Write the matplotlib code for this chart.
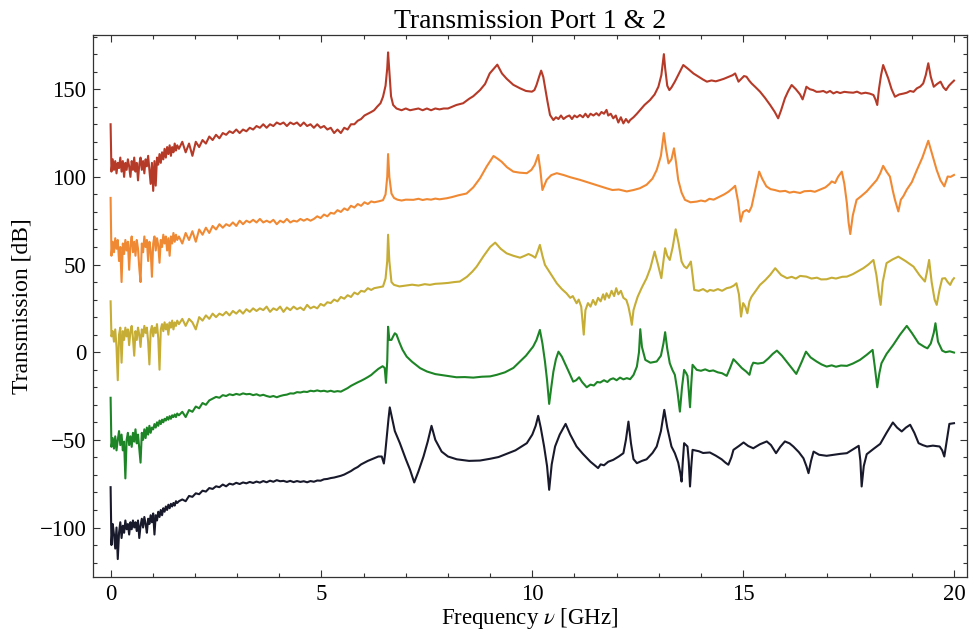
import matplotlib
matplotlib.use("Agg")
import matplotlib.pyplot as plt
from matplotlib.ticker import MultipleLocator
import numpy as np

plt.rcParams["font.family"] = ["Liberation Serif", "DejaVu Serif"]
plt.rcParams["mathtext.fontset"] = "stix"

# shared frequency samples (GHz) for the noisy low-frequency part
f_low = [0.00, 0.02, 0.05, 0.08, 0.11, 0.14, 0.17, 0.20, 0.23, 0.26,
         0.29, 0.32, 0.35, 0.38, 0.41, 0.44, 0.47, 0.50, 0.53, 0.56,
         0.59, 0.62, 0.65, 0.68, 0.71, 0.74, 0.77, 0.80, 0.83, 0.86,
         0.89, 0.92, 0.95, 0.98, 1.01, 1.04, 1.07, 1.10, 1.13, 1.16,
         1.19, 1.22, 1.25, 1.28, 1.31, 1.34, 1.37, 1.40, 1.43, 1.46,
         1.49, 1.52, 1.55, 1.58]
f_mid = [1.62, 1.70, 1.78, 1.86, 1.94, 2.02, 2.10, 2.18, 2.26, 2.34,
         2.42, 2.50, 2.58, 2.66, 2.74, 2.82, 2.90, 2.98, 3.06, 3.14,
         3.22, 3.30, 3.38, 3.46, 3.54, 3.62, 3.70, 3.78, 3.86, 3.94,
         4.02, 4.10, 4.18, 4.26, 4.34, 4.42, 4.50, 4.58, 4.66, 4.74,
         4.82, 4.90, 4.98, 5.06, 5.14, 5.22, 5.30, 5.38, 5.46, 5.54,
         5.62, 5.70, 5.78, 5.86, 5.94, 6.02, 6.10, 6.18]

# --- trace 1 (red) ---
red_low = [130, 103, 110, 104, 109, 102, 108, 105, 111, 103,
           109, 100, 108, 104, 110, 106, 100, 109, 104, 111,
           103, 108, 98, 107, 111, 104, 109, 102, 110, 106,
           112, 104, 96, 108, 92, 109, 95, 111, 107, 113,
           108, 114, 110, 116, 111, 117, 113, 118, 112, 117,
           114, 119, 115, 118]
red_mid = [116, 120, 114, 119, 112, 120, 117, 121, 119, 123,
           121, 124, 122, 125, 124, 126, 125, 127, 125, 127,
           126, 128, 127, 129, 128, 130, 128, 130, 129, 131,
           130, 131, 129, 131, 130, 131, 129, 131, 129, 130,
           128, 130, 128, 129, 127, 128, 125, 127, 125, 128,
           127, 130, 130, 132, 133, 135, 136, 137]
red_hi = [(6.25, 138), (6.32, 140), (6.40, 142), (6.46, 145.7), (6.52, 152), (6.56, 162),
          (6.58, 171), (6.61, 160), (6.65, 146), (6.70, 141), (6.78, 139), (6.90, 138),
          (7.00, 139), (7.10, 138), (7.20, 138.5), (7.30, 139), (7.40, 138), (7.50, 139),
          (7.60, 138), (7.70, 139), (7.80, 138.5), (7.90, 139), (8.00, 139), (8.10, 140),
          (8.20, 141), (8.36, 142), (8.50, 144.5), (8.60, 146), (8.76, 149.5), (8.88, 153),
          (8.99, 159), (9.08, 161.5), (9.17, 164), (9.28, 159), (9.39, 156), (9.55, 152.5),
          (9.71, 150.5), (9.85, 149), (9.99, 148.6), (10.05, 149.5), (10.10, 152.4),
          (10.16, 157), (10.21, 160.6), (10.26, 157), (10.30, 151.4), (10.36, 143),
          (10.42, 135.3), (10.50, 132.4), (10.56, 134), (10.62, 133), (10.68, 135),
          (10.74, 133), (10.81, 134.3), (10.88, 135), (10.94, 133), (11.00, 135),
          (11.06, 134), (11.13, 135.3), (11.20, 134), (11.26, 136), (11.32, 134),
          (11.38, 136), (11.45, 135), (11.52, 136.3), (11.58, 135), (11.64, 137),
          (11.70, 136), (11.76, 138.2), (11.80, 135), (11.86, 136), (11.92, 133.4),
          (11.98, 135), (12.04, 131), (12.10, 134), (12.16, 130.5), (12.22, 133),
          (12.28, 131), (12.32, 132.4), (12.40, 134), (12.48, 136), (12.56, 138.2),
          (12.66, 141), (12.79, 143.8), (12.90, 147), (12.99, 151.4), (13.06, 158),
          (13.10, 166), (13.12, 170), (13.15, 162), (13.20, 152), (13.25, 149.5),
          (13.30, 151), (13.38, 154.3), (13.48, 159), (13.58, 163.8), (13.70, 161.5),
          (13.82, 159), (13.95, 157), (14.05, 155.5), (14.14, 154.3), (14.25, 155),
          (14.35, 154.5), (14.45, 155.2), (14.55, 156), (14.65, 157), (14.75, 158),
          (14.81, 159), (14.86, 156), (14.89, 154.3), (14.96, 156), (15.02, 157.5),
          (15.08, 157.1), (15.14, 155), (15.20, 153.3), (15.30, 151), (15.40, 148.6),
          (15.52, 145), (15.64, 141), (15.75, 137), (15.83, 133.4), (15.90, 138),
          (15.99, 144.8), (16.07, 149), (16.15, 152.4), (16.25, 150), (16.35, 147),
          (16.41, 144.2), (16.46, 148), (16.50, 151.4), (16.58, 150), (16.66, 149.5),
          (16.74, 148.5), (16.82, 148.6), (16.90, 149), (16.98, 148), (17.06, 149),
          (17.14, 147.6), (17.22, 148.5), (17.30, 147.8), (17.40, 148.5), (17.50, 148.2),
          (17.61, 148), (17.70, 148.6), (17.80, 147.5), (17.90, 148), (18.00, 147.5),
          (18.09, 146.7), (18.14, 144), (18.18, 141), (18.22, 150), (18.27, 158),
          (18.32, 163.8), (18.38, 160), (18.44, 156.2), (18.52, 150), (18.60, 145.7),
          (18.70, 147), (18.80, 147.5), (18.88, 148), (18.96, 149), (19.04, 148.5),
          (19.12, 150.5), (19.20, 151.5), (19.27, 153.3), (19.33, 158), (19.39, 164.8),
          (19.45, 157), (19.52, 151.4), (19.60, 153), (19.68, 154.3), (19.75, 151),
          (19.81, 149.5), (19.88, 152), (19.94, 153.5), (20.00, 154.9)]

# --- trace 2 (orange) ---
orange_low = [88, 55, 63, 57, 65, 59, 64, 52, 60, 40,
              62, 56, 64, 58, 63, 47, 61, 66, 57, 63,
              55, 64, 59, 48, 40, 62, 57, 66, 60, 64,
              52, 63, 58, 43, 62, 66, 58, 65, 61, 51,
              64, 60, 67, 62, 66, 58, 65, 55, 66, 62,
              68, 63, 67, 64]
orange_mid = [66, 62, 68, 64, 69, 63, 70, 67, 71, 68,
              72, 70, 73, 71, 73, 72, 74, 72, 75, 73,
              75, 74, 75.5, 74, 76, 74, 75, 74, 75.5, 73,
              75, 74, 76, 74, 75, 74.5, 76, 75, 76, 75,
              76, 77.5, 76.5, 78.5, 77.5, 79.5, 79, 81, 80, 82,
              81, 83.5, 82.5, 84.5, 83.5, 85.5, 84.5, 86]
orange_hi = [(6.25, 85.5), (6.35, 86), (6.46, 86.7), (6.52, 90), (6.56, 100), (6.58, 113),
             (6.61, 100), (6.66, 90.5), (6.72, 88), (6.80, 87), (6.90, 86.5), (7.00, 87),
             (7.18, 86.9), (7.30, 87.5), (7.40, 86.8), (7.50, 87.3), (7.60, 87), (7.70, 87.6),
             (7.80, 87.2), (7.97, 87.8), (8.10, 88.5), (8.25, 89.5), (8.44, 90.5), (8.60, 94),
             (8.76, 99.2), (8.92, 106), (9.08, 111.9), (9.17, 110.5), (9.27, 108.7),
             (9.40, 105.5), (9.55, 103), (9.70, 102.4), (9.87, 102.1), (9.98, 104),
             (10.06, 107), (10.14, 112.5), (10.19, 104), (10.24, 92.5), (10.30, 96),
             (10.34, 98.3), (10.45, 101), (10.58, 102.1), (10.75, 101), (10.90, 99.8),
             (11.13, 98.3), (11.30, 97), (11.50, 95.5), (11.76, 93.5), (11.90, 92.5),
             (12.05, 92.8), (12.24, 91.7), (12.40, 92.5), (12.55, 93.5), (12.71, 95.5),
             (12.85, 99), (12.95, 103.9), (13.05, 112), (13.12, 125), (13.17, 116),
             (13.23, 107.7), (13.30, 110), (13.36, 116.3), (13.41, 108), (13.46, 98.3),
             (13.54, 91), (13.62, 86.9), (13.75, 85.5), (13.90, 85.9), (14.00, 86.5),
             (14.10, 86), (14.20, 87.5), (14.30, 87), (14.45, 88.8), (14.55, 90),
             (14.65, 91.5), (14.75, 93.5), (14.81, 94.9), (14.88, 86), (14.94, 74.5),
             (15.00, 80), (15.08, 81.1), (15.14, 80), (15.20, 83), (15.28, 92),
             (15.38, 103), (15.45, 99), (15.55, 94.6), (15.65, 93), (15.75, 92.5),
             (15.87, 91.7), (16.00, 92), (16.10, 91), (16.20, 91.5), (16.35, 90.8),
             (16.45, 91.8), (16.60, 92), (16.70, 91.5), (16.82, 92.7), (16.95, 94),
             (17.05, 96), (17.10, 97.4), (17.18, 96.5), (17.25, 100), (17.34, 103),
             (17.40, 96), (17.46, 84.9), (17.50, 74), (17.54, 67.4), (17.60, 78),
             (17.69, 86.9), (17.80, 89), (17.93, 91.7), (18.05, 95), (18.17, 98.3),
             (18.25, 102), (18.32, 106.3), (18.40, 103), (18.48, 100.2), (18.55, 92),
             (18.60, 86.9), (18.68, 80.3), (18.74, 87), (18.80, 89), (18.88, 92.7),
             (19.00, 97), (19.12, 103.9), (19.25, 111), (19.39, 120.6), (19.48, 113),
             (19.59, 103.9), (19.68, 98), (19.77, 94.6), (19.85, 100.2), (19.92, 100),
             (20.00, 101.1)]

# --- trace 3 (yellow) ---
yellow_low = [29, 9, 12, 6, 13, 3, -16, 10, 14, -6,
              12, 7, 14, 9, 13, 4, 12, 15, 8, -2,
              12, 7, 14, 10, 3, 13, 9, 15, 11, 14,
              6, -7, 12, 15, 9, 14, 11, 16, 8, -10,
              13, 16, 12, 17, 13, 16, 10, 17, 14, 18,
              13, 17, 15, 18]
yellow_mid = [16, 19, 15, 19, 17, 13, 20, 18, 21, 19,
              22, 20, 22, 21, 23, 21, 23.5, 22, 24, 22,
              24.5, 23, 25, 23.5, 25, 24, 26, 23, 25, 24,
              26, 23, 25.5, 24, 26, 24.5, 25.5, 24, 27, 25,
              26, 25, 27.5, 26.5, 28.5, 28, 30, 29, 31.5, 30.5,
              32.5, 31.5, 34, 33, 35, 34.5, 36.5, 35.5]
yellow_hi = [(6.25, 36.5), (6.35, 37), (6.46, 37.5), (6.52, 42), (6.56, 52), (6.58, 67),
             (6.61, 52), (6.66, 40), (6.72, 38.4), (6.85, 37.5), (7.00, 38), (7.15, 38.5),
             (7.30, 38), (7.45, 38.8), (7.57, 38.4), (7.70, 39), (7.85, 39.2), (8.00, 39.5),
             (8.15, 40), (8.28, 40.3), (8.45, 43), (8.58, 46), (8.68, 48.8), (8.85, 55),
             (9.00, 60), (9.12, 62.5), (9.25, 59), (9.39, 56.4), (9.55, 55), (9.71, 53.9),
             (9.82, 55), (9.91, 56), (10.00, 55), (10.07, 53.9), (10.12, 57), (10.18, 61.2),
             (10.24, 55), (10.30, 49.8), (10.44, 44.5), (10.58, 39.3), (10.70, 36),
             (10.81, 33.6), (10.90, 31), (10.96, 32), (11.05, 27.9), (11.10, 30),
             (11.16, 26), (11.22, 10), (11.26, 24), (11.32, 28), (11.38, 26), (11.44, 29.8),
             (11.50, 27), (11.56, 31), (11.62, 29), (11.68, 33), (11.72, 30), (11.76, 33.6),
             (11.82, 31), (11.88, 35), (11.94, 32), (11.99, 36.5), (12.04, 33), (12.10, 35),
             (12.16, 31), (12.23, 29.8), (12.28, 26), (12.33, 20), (12.36, 15.6),
             (12.40, 24), (12.45, 28), (12.50, 31.7), (12.60, 37), (12.71, 42.2),
             (12.80, 48), (12.90, 57.4), (12.98, 50), (13.06, 42.2), (13.11, 52),
             (13.15, 59.3), (13.20, 55), (13.26, 52.6), (13.33, 60), (13.40, 70.1),
             (13.47, 62), (13.54, 51.7), (13.60, 49), (13.66, 47.9), (13.72, 50),
             (13.76, 51.7), (13.80, 44), (13.84, 35.5), (13.95, 35), (14.05, 36),
             (14.15, 34.5), (14.21, 35.5), (14.30, 35), (14.40, 36), (14.50, 35),
             (14.61, 36.5), (14.70, 37), (14.78, 38), (14.84, 39.3), (14.90, 33),
             (14.95, 20.3), (15.00, 28), (15.05, 26), (15.10, 22.2), (15.15, 29),
             (15.20, 31.7), (15.30, 35), (15.40, 38.4), (15.52, 41), (15.64, 44.1),
             (15.76, 47.9), (15.90, 44), (16.04, 42.2), (16.15, 43), (16.25, 42),
             (16.35, 43.5), (16.50, 43.1), (16.62, 42), (16.75, 42.5), (16.85, 41.5),
             (16.98, 41.6), (17.10, 42.5), (17.20, 42), (17.35, 43), (17.46, 43.1),
             (17.60, 44.5), (17.75, 46.5), (17.85, 47.9), (17.97, 50), (18.09, 52.6),
             (18.16, 44), (18.22, 33), (18.26, 27), (18.31, 40), (18.40, 50.8),
             (18.55, 53), (18.68, 54.5), (18.85, 52), (19.04, 48.8), (19.18, 44),
             (19.31, 40.3), (19.36, 46), (19.41, 52.6), (19.47, 40), (19.54, 30),
             (19.59, 27), (19.66, 36), (19.72, 42), (19.79, 42.2), (19.85, 40),
             (19.91, 38.4), (19.96, 41), (20.00, 42.2)]

# --- trace 4 (green) ---
green_low = [-26, -54, -49, -55, -48, -56, -50, -45, -53, -47,
             -56, -51, -72, -50, -46, -53, -48, -54, -46, -51,
             -44, -52, -47, -55, -63, -46, -50, -44, -49, -43,
             -47, -42, -46, -43, -44, -41, -43, -40, -42, -39,
             -41, -38.5, -40, -38, -39, -37, -38.5, -36.5, -38, -36,
             -37, -35.5, -37, -35]
green_mid = [-36, -34, -37, -33, -34, -31, -32, -29, -30, -27.5,
             -26.5, -25.5, -26, -24.5, -25, -24, -24.5, -23.8, -24.3, -23.5,
             -24, -23.8, -24.5, -24, -24.8, -24.3, -25, -25.5, -25, -25.7,
             -25, -24.5, -24.2, -23.5, -23.6, -22.8, -23, -22.5, -22.7, -22,
             -22.3, -21.8, -22.3, -22, -22.5, -22, -22.6, -22.2, -22.5, -21.5,
             -20.5, -19.2, -18.2, -17.2, -16.3, -15.3, -14.2, -13]
green_hi = [(6.25, -11.5), (6.35, -9.5), (6.45, -8), (6.50, -9), (6.53, -17.5), (6.56, -5),
            (6.58, 14.5), (6.61, 7), (6.66, 7), (6.70, 9), (6.74, 10.8), (6.78, 10),
            (6.85, 5.5), (6.92, 1.5), (7.02, -2.5), (7.15, -5.5), (7.34, -9.1), (7.50, -11),
            (7.70, -12.5), (7.97, -13.5), (8.20, -14.3), (8.40, -14.2), (8.60, -14.5),
            (8.80, -14), (9.00, -13.8), (9.16, -12.9), (9.35, -11.5), (9.55, -9),
            (9.71, -5.3), (9.85, -2), (9.95, 1), (10.02, 3.2), (10.10, 7), (10.18, 12.7),
            (10.24, 5), (10.30, -5.3), (10.35, -16), (10.40, -29.5), (10.45, -20),
            (10.50, -11.1), (10.56, -4), (10.62, 0.3), (10.70, -2.5), (10.81, -8.2),
            (10.90, -13), (10.97, -16.8), (11.04, -16), (11.11, -14.3), (11.18, -17),
            (11.29, -20), (11.38, -18.5), (11.46, -19), (11.54, -17), (11.61, -17.3),
            (11.70, -16), (11.78, -17), (11.85, -15.5), (11.92, -14.9), (12.00, -16),
            (12.08, -14.5), (12.16, -15.5), (12.24, -14.8), (12.32, -15.4), (12.40, -13),
            (12.48, -8.2), (12.53, 0), (12.56, 13.1), (12.60, 3), (12.68, -4.4),
            (12.80, -6), (12.95, -5.3), (13.05, -2), (13.11, 5), (13.15, 11.4),
            (13.20, 2), (13.26, -6.3), (13.32, -10), (13.38, -12.9), (13.44, -22),
            (13.50, -33.9), (13.55, -20), (13.60, -10.1), (13.65, -12), (13.68, -13.5),
            (13.71, -22), (13.74, -31.4), (13.77, -18), (13.80, -7.2), (13.90, -10.1),
            (14.00, -10.6), (14.10, -9.8), (14.20, -10.8), (14.29, -10.4), (14.40, -11.5),
            (14.50, -12), (14.61, -13.5), (14.69, -9), (14.77, -4), (14.87, -6.5),
            (14.97, -9.1), (15.07, -11), (15.15, -12.9), (15.20, -8), (15.24, -6),
            (15.35, -6.5), (15.48, -6), (15.60, -3.5), (15.70, -1), (15.80, 0.9),
            (15.92, -2), (16.03, -5.3), (16.15, -9), (16.26, -12.4), (16.38, -6),
            (16.49, 0.3), (16.60, -3), (16.74, -5.3), (16.86, -7), (16.98, -8.2),
            (17.10, -7.5), (17.20, -8.3), (17.32, -7.6), (17.46, -7.8), (17.60, -6.5),
            (17.77, -4.4), (17.93, -1.5), (18.07, 1.3), (18.12, -8), (18.18, -20),
            (18.23, -12), (18.28, -6.3), (18.40, -1), (18.56, 4.2), (18.72, 10),
            (18.88, 15), (19.00, 11), (19.16, 5.1), (19.30, 3), (19.37, 2.2),
            (19.45, 5), (19.52, 11), (19.56, 16.5), (19.62, 6), (19.72, 0.9),
            (19.80, 0), (19.90, 0.5), (20.00, -0.2)]

# --- trace 5 (black) ---
black_low = [-77, -110, -98, -104, -112, -100, -118, -103, -97, -106,
             -99, -103, -96, -101, -98, -104, -97, -101, -96, -100,
             -97, -102, -96, -106, -99, -95, -100, -94, -98, -103,
             -95, -98, -93, -97, -92, -104, -93, -96, -91, -94,
             -90, -93, -89, -91, -88, -90, -87, -89, -86.5, -88,
             -86, -87.5, -85, -86]
black_mid = [-85, -84, -85, -82, -82.5, -80.5, -81, -79, -79.5, -77.5,
             -78, -76.5, -77, -75.5, -76.5, -75, -75.5, -74.5, -75.2, -74.3,
             -74.8, -74, -74.6, -73.8, -74.4, -73.5, -74.2, -73.3, -73.9, -73,
             -73.6, -73.4, -74, -73.4, -74.1, -73.5, -74, -73.6, -74.2, -73.5,
             -73.9, -73.2, -73.3, -72.5, -72.3, -71.8, -71.5, -71, -70.5, -69.8,
             -68.8, -67.8, -66.5, -65.5, -64, -63, -62, -61.2]
black_hi = [(6.25, -60.5), (6.35, -59.5), (6.43, -59.5), (6.48, -63.5), (6.51, -58),
            (6.55, -48), (6.59, -38), (6.62, -31.5), (6.66, -36), (6.74, -45),
            (6.86, -51.9), (7.00, -61), (7.10, -67), (7.20, -74.3), (7.30, -68),
            (7.42, -59.5), (7.52, -51), (7.61, -42), (7.70, -50), (7.85, -56.7),
            (8.00, -59.5), (8.21, -61.1), (8.50, -62), (8.76, -61.8), (9.00, -60.8),
            (9.20, -59.8), (9.39, -58), (9.60, -56), (9.87, -51.9), (10.00, -47),
            (10.08, -42), (10.14, -36.3), (10.20, -43), (10.28, -53.8), (10.35, -65),
            (10.40, -78.5), (10.46, -64), (10.54, -53.8), (10.65, -47), (10.79, -40.9),
            (10.90, -47), (11.05, -53.8), (11.20, -58), (11.38, -62.5), (11.48, -64.5),
            (11.56, -66.1), (11.62, -64), (11.70, -64.5), (11.80, -62.5), (11.92, -61.4),
            (12.05, -59.5), (12.16, -57.6), (12.22, -50), (12.28, -39.6), (12.34, -52),
            (12.40, -61), (12.48, -63.3), (12.60, -62), (12.71, -61.1), (12.85, -57.5),
            (12.95, -53.8), (13.05, -45), (13.13, -32.9), (13.20, -43), (13.30, -53.8),
            (13.38, -57.6), (13.46, -63), (13.51, -69), (13.54, -73.8), (13.57, -62),
            (13.60, -51.9), (13.68, -53.8), (13.71, -62), (13.74, -76.6), (13.77, -65),
            (13.80, -55.7), (13.95, -56.5), (14.05, -57.5), (14.21, -57.2), (14.35, -59),
            (14.49, -61.1), (14.58, -63), (14.65, -64.2), (14.72, -60), (14.77, -55.7),
            (14.90, -53.5), (15.01, -51.5), (15.12, -53.5), (15.24, -54.8), (15.40, -52.5),
            (15.56, -50.9), (15.66, -53), (15.78, -57.6), (15.88, -54), (15.99, -50.9),
            (16.10, -52), (16.19, -53.8), (16.32, -57), (16.43, -60.5), (16.50, -65),
            (16.55, -69), (16.61, -62), (16.67, -56.7), (16.80, -58.5), (16.98, -59.1),
            (17.15, -58.5), (17.30, -58), (17.46, -57.6), (17.60, -55.5), (17.74, -53.4),
            (17.78, -62), (17.81, -76.6), (17.86, -65), (17.93, -58.2), (18.10, -55),
            (18.25, -52.3), (18.40, -46), (18.55, -40.1), (18.65, -43), (18.76, -45.2),
            (18.86, -43), (18.96, -41.4), (19.06, -46), (19.16, -51.9), (19.26, -53),
            (19.36, -53.8), (19.50, -53.3), (19.66, -53.8), (19.72, -56), (19.77, -59.5),
            (19.83, -50), (19.89, -40.9), (20.00, -40.5)]

traces = [
    (red_low, red_mid, red_hi, "#b63a28"),
    (orange_low, orange_mid, orange_hi, "#f08933"),
    (yellow_low, yellow_mid, yellow_hi, "#c6ad35"),
    (green_low, green_mid, green_hi, "#1d8526"),
    (black_low, black_mid, black_hi, "#181a2c"),
]

fig = plt.figure(figsize=(9.72, 6.37), dpi=100)
ax = fig.add_axes([0.096, 0.094, 0.8985, 0.851])

for low, mid, hi, color in traces:
    hf, hv = zip(*hi)
    f = np.concatenate([f_low, f_mid, hf])
    v = np.concatenate([low, mid, hv])
    ax.plot(f, v, color=color, lw=1.5, solid_joinstyle="round")

ax.set_xlim(-0.41, 20.30)
ax.set_ylim(-128.3, 180.9)
ax.xaxis.set_major_locator(MultipleLocator(5))
ax.xaxis.set_minor_locator(MultipleLocator(1))
ax.yaxis.set_major_locator(MultipleLocator(50))
ax.yaxis.set_minor_locator(MultipleLocator(10))
ax.tick_params(which="both", direction="in", top=True, right=True,
               colors="#333333", labelcolor="black", labelsize=16.5, width=0.8)
ax.tick_params(which="major", length=5, pad=5)
ax.tick_params(which="minor", length=3)
for s in ax.spines.values():
    s.set_color("#333333")
    s.set_linewidth(0.9)

ax.set_title("Transmission Port 1 & 2", fontsize=20, pad=5)
ax.set_xlabel(r"Frequency $\nu$ [GHz]", fontsize=16.5, labelpad=1)
ax.set_ylabel("Transmission [dB]", fontsize=17, labelpad=5)

fig.savefig("out.png", dpi=100)
